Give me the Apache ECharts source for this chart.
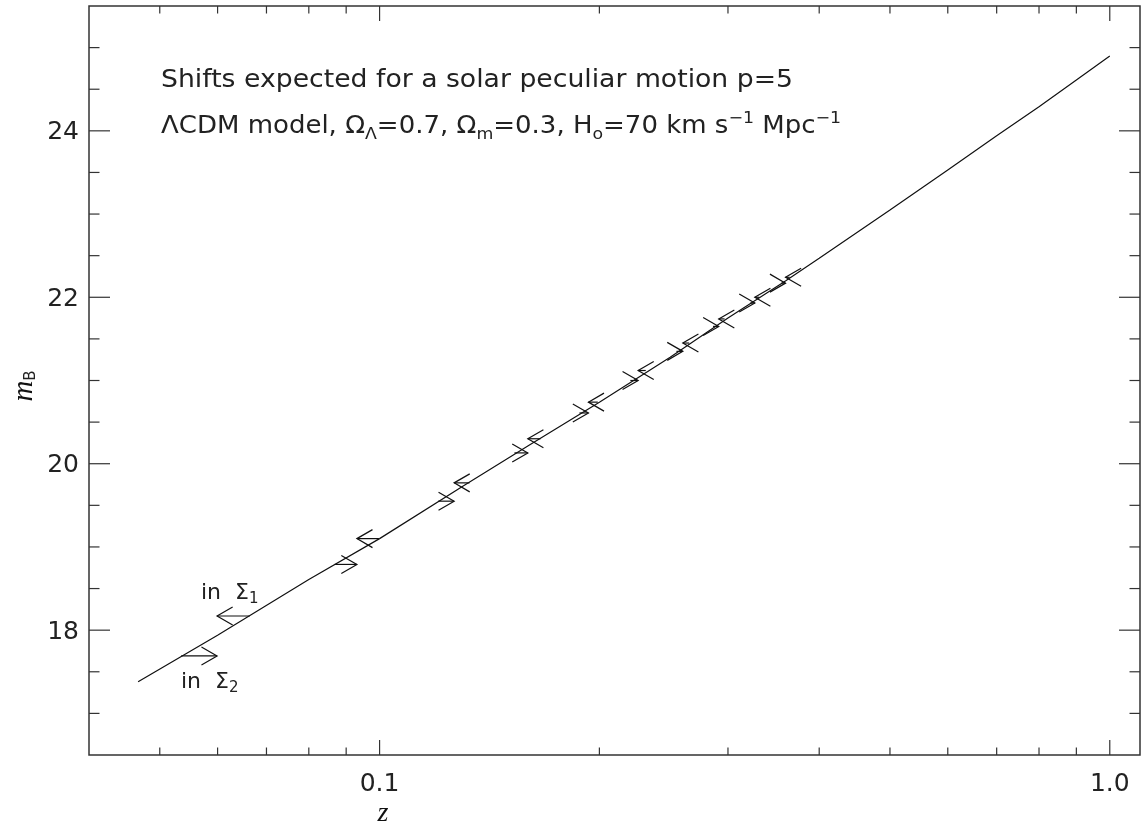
<!DOCTYPE html>
<html>
<head>
<meta charset="utf-8">
<script src="https://cdn.jsdelivr.net/npm/echarts@6/dist/echarts.min.js"></script>
<style>
  html, body { margin: 0; padding: 0; background: #fff; }
  #chart { width: 1142px; height: 829px; }
</style>
</head>
<body>
<div id="chart"></div>
<script>
// Apparent magnitude m_B against redshift z (flat ΛCDM curve)
const curveZ = [0.0467, 0.06, 0.08, 0.1, 0.13, 0.16, 0.2, 0.25, 0.3, 0.36, 0.4, 0.5, 0.6, 0.7, 0.8, 0.9, 1.0];
const curveM = [17.38, 17.94, 18.61, 19.10, 19.73, 20.22, 20.74, 21.28, 21.75, 22.20, 22.47, 23.05, 23.53, 23.94, 24.29, 24.61, 24.90];

// Redshift shifts: each pair ends at a common redshift
const tipZ        = [0.0599, 0.0931, 0.1265, 0.1596, 0.1932, 0.2260, 0.2602, 0.2914, 0.3265, 0.3597];
// Σ1 hemisphere: shifted towards lower z
const sigma1M     = [18.17, 19.10, 19.77, 20.30, 20.74, 21.12, 21.45, 21.74, 22.00, 22.24];
const sigma1FromZ = [0.0664, 0.0998, 0.1328, 0.1661, 0.1990, 0.2315, 0.2655, 0.2968, 0.3312, 0.3644];
// Σ2 hemisphere: shifted towards higher z
const sigma2M     = [17.69, 18.79, 19.55, 20.13, 20.61, 21.00, 21.35, 21.65, 21.93, 22.17];
const sigma2FromZ = [0.0535, 0.0868, 0.1203, 0.1530, 0.1878, 0.2205, 0.2550, 0.2862, 0.3218, 0.3550];

// Axis ticks
const xMajorTicks = [0.1, 1.0];
const xMajorLabels = ['0.1', '1.0'];
const xMinorTicks = [0.05, 0.06, 0.07, 0.08, 0.09, 0.2, 0.3, 0.4, 0.5, 0.6, 0.7, 0.8, 0.9];
const yMajorTicks = [18, 20, 22, 24];
const yMajorLabels = ['18', '20', '22', '24'];
const yMinorTicks = [17, 17.5, 18.5, 19, 19.5, 20.5, 21, 21.5, 22.5, 23, 23.5, 24.5, 25];

const X_MIN = 0.04, X_MAX = 1.1, Y_MIN = 16.5, Y_MAX = 25.5;
const INK = '#111';
const TEXT = '#222';
const SANS = '"DejaVu Sans ExtraLight", "DejaVu Sans", sans-serif';
const SERIF = '"Liberation Serif", "DejaVu Serif", serif';

const curveData = curveZ.map((z, i) => [z, curveM[i]]);
const arrowData = [];
tipZ.forEach((t, i) => {
  arrowData.push([sigma1FromZ[i], sigma1M[i], t]);
  arrowData.push([sigma2FromZ[i], sigma2M[i], t]);
});

function renderArrow(params, api) {
  const m = api.value(1);
  const from = api.coord([api.value(0), m]);
  const to = api.coord([api.value(2), m]);
  const dir = to[0] >= from[0] ? 1 : -1;
  const len = 18, ang = Math.PI / 6;
  const bx = to[0] - dir * len * Math.cos(ang);
  const by = len * Math.sin(ang);
  const st = { stroke: INK, lineWidth: 1.2, fill: null };
  return {
    type: 'group',
    children: [
      { type: 'line', shape: { x1: from[0], y1: from[1], x2: to[0], y2: to[1] }, style: st },
      { type: 'polyline', shape: { points: [[bx, to[1] - by], to, [bx, to[1] + by]] }, style: st }
    ]
  };
}

function renderTicks(params, api) {
  const cs = params.coordSys;
  const left = cs.x, top = cs.y, right = cs.x + cs.width, bottom = cs.y + cs.height;
  const st = { stroke: '#333', lineWidth: 1.2 };
  const kids = [];
  const xMaj = 15, xMin = 7.5, yMaj = 21, yMin = 10.5;
  const midY = (Y_MIN + Y_MAX) / 2, midX = 0.2;
  const labelFont = '25px ' + SANS;
  xMajorTicks.forEach((v, i) => {
    const px = api.coord([v, midY])[0];
    kids.push({ type: 'line', shape: { x1: px, y1: bottom, x2: px, y2: bottom - xMaj }, style: st });
    kids.push({ type: 'line', shape: { x1: px, y1: top, x2: px, y2: top + xMaj }, style: st });
    kids.push({ type: 'text', x: px, y: bottom + 29, style: {
      text: xMajorLabels[i], fill: TEXT, font: labelFont, align: 'center', verticalAlign: 'middle' } });
  });
  xMinorTicks.forEach(v => {
    const px = api.coord([v, midY])[0];
    kids.push({ type: 'line', shape: { x1: px, y1: bottom, x2: px, y2: bottom - xMin }, style: st });
    kids.push({ type: 'line', shape: { x1: px, y1: top, x2: px, y2: top + xMin }, style: st });
  });
  yMajorTicks.forEach((v, i) => {
    const py = api.coord([midX, v])[1];
    kids.push({ type: 'line', shape: { x1: left, y1: py, x2: left + yMaj, y2: py }, style: st });
    kids.push({ type: 'line', shape: { x1: right, y1: py, x2: right - yMaj, y2: py }, style: st });
    kids.push({ type: 'text', x: left - 10, y: py + 2, style: {
      text: yMajorLabels[i], fill: TEXT, font: labelFont, align: 'right', verticalAlign: 'middle' } });
  });
  yMinorTicks.forEach(v => {
    const py = api.coord([midX, v])[1];
    kids.push({ type: 'line', shape: { x1: left, y1: py, x2: left + yMin, y2: py }, style: st });
    kids.push({ type: 'line', shape: { x1: right, y1: py, x2: right - yMin, y2: py }, style: st });
  });
  return { type: 'group', children: kids };
}

// Text measuring, used to stretch the annotation lines to the wide stroke-font look
const measureCtx = document.createElement('canvas').getContext('2d');
function textWidth(str, size) {
  measureCtx.font = size + 'px ' + SANS;
  return measureCtx.measureText(str).width;
}

const MAIN = 24, SMALL = 16;
const annRich = {
  n:   { fontSize: MAIN, lineHeight: 32, fill: TEXT, fontFamily: SANS },
  sub: { fontSize: SMALL, lineHeight: 16, verticalAlign: 'bottom', fill: TEXT, fontFamily: SANS },
  sup: { fontSize: SMALL, lineHeight: 16, verticalAlign: 'top', fill: TEXT, fontFamily: SANS }
};
const sizeOf = { n: MAIN, sub: SMALL, sup: SMALL };

// Annotation lines as [style, text] pieces
const line1 = [['n', 'Shifts expected for a solar peculiar motion p=5']];
const line2 = [
  ['n', 'ΛCDM model, Ω'], ['sub', 'Λ'], ['n', '=0.7, Ω'], ['sub', 'm'],
  ['n', '=0.3, H'], ['sub', 'o'], ['n', '=70 km s'], ['sup', '−1'],
  ['n', ' Mpc'], ['sup', '−1']
];

function richText(pieces) {
  return pieces.map(p => '{' + p[0] + '|' + p[1] + '}').join('');
}
function richWidth(pieces) {
  return pieces.reduce((s, p) => s + textWidth(p[1], sizeOf[p[0]]), 0);
}

const LINE_X = 161;
const LINE1_W = 632, LINE2_W = 680;

const chart = echarts.init(document.getElementById('chart'), null, { renderer: 'canvas' });
chart.setOption({
  animation: false,
  backgroundColor: '#fff',
  grid: {
    left: 89, top: 6, right: 2, bottom: 74,
    show: true, borderColor: '#333', borderWidth: 1.5,
    containLabel: false, outerBoundsMode: 'none'
  },
  xAxis: {
    type: 'log', logBase: 10, min: X_MIN, max: X_MAX,
    axisLine: { show: false }, axisTick: { show: false },
    axisLabel: { show: false }, splitLine: { show: false }, minorTick: { show: false }
  },
  yAxis: {
    type: 'value', min: Y_MIN, max: Y_MAX,
    axisLine: { show: false }, axisTick: { show: false },
    axisLabel: { show: false }, splitLine: { show: false }
  },
  series: [
    {
      type: 'line', data: curveData, symbol: 'none', silent: true,
      lineStyle: { color: INK, width: 1.2 }
    },
    {
      type: 'custom', data: arrowData, renderItem: renderArrow, silent: true,
      encode: { x: [0, 2], y: 1 }
    },
    {
      type: 'custom', data: [[0.2, 20]], renderItem: renderTicks, silent: true,
      encode: { x: 0, y: 1 }, clip: false
    }
  ],
  graphic: [
    { type: 'text', x: LINE_X, y: 81, scaleX: LINE1_W / richWidth(line1), silent: true, style: {
      text: richText(line1), rich: annRich, verticalAlign: 'middle' } },
    { type: 'text', x: LINE_X, y: 127, scaleX: LINE2_W / richWidth(line2), silent: true, style: {
      text: richText(line2), rich: annRich, verticalAlign: 'middle' } },
    { type: 'text', x: 201, y: 593, silent: true, style: {
      text: '{m|in  Σ}{s|1}', verticalAlign: 'middle',
      rich: {
        m: { fontSize: 22, lineHeight: 28, fill: TEXT, fontFamily: SANS },
        s: { fontSize: 15, lineHeight: 15, verticalAlign: 'bottom', fill: TEXT, fontFamily: SANS }
      } } },
    { type: 'text', x: 181, y: 682, silent: true, style: {
      text: '{m|in  Σ}{s|2}', verticalAlign: 'middle',
      rich: {
        m: { fontSize: 22, lineHeight: 28, fill: TEXT, fontFamily: SANS },
        s: { fontSize: 15, lineHeight: 15, verticalAlign: 'bottom', fill: TEXT, fontFamily: SANS }
      } } },
    { type: 'text', x: 383, y: 814, silent: true, style: {
      text: 'z', fill: INK, font: 'italic 28px ' + SERIF, align: 'center', verticalAlign: 'middle' } },
    { type: 'text', x: 24, y: 386, rotation: Math.PI / 2, silent: true, style: {
      text: '{m|m}{b|B}', align: 'center', verticalAlign: 'middle',
      rich: {
        m: { fontSize: 29, lineHeight: 30, fontStyle: 'italic', fontFamily: SERIF, fill: INK },
        b: { fontSize: 15, lineHeight: 15, verticalAlign: 'bottom', fontFamily: SANS, fill: TEXT }
      } } }
  ]
});
</script>
</body>
</html>
